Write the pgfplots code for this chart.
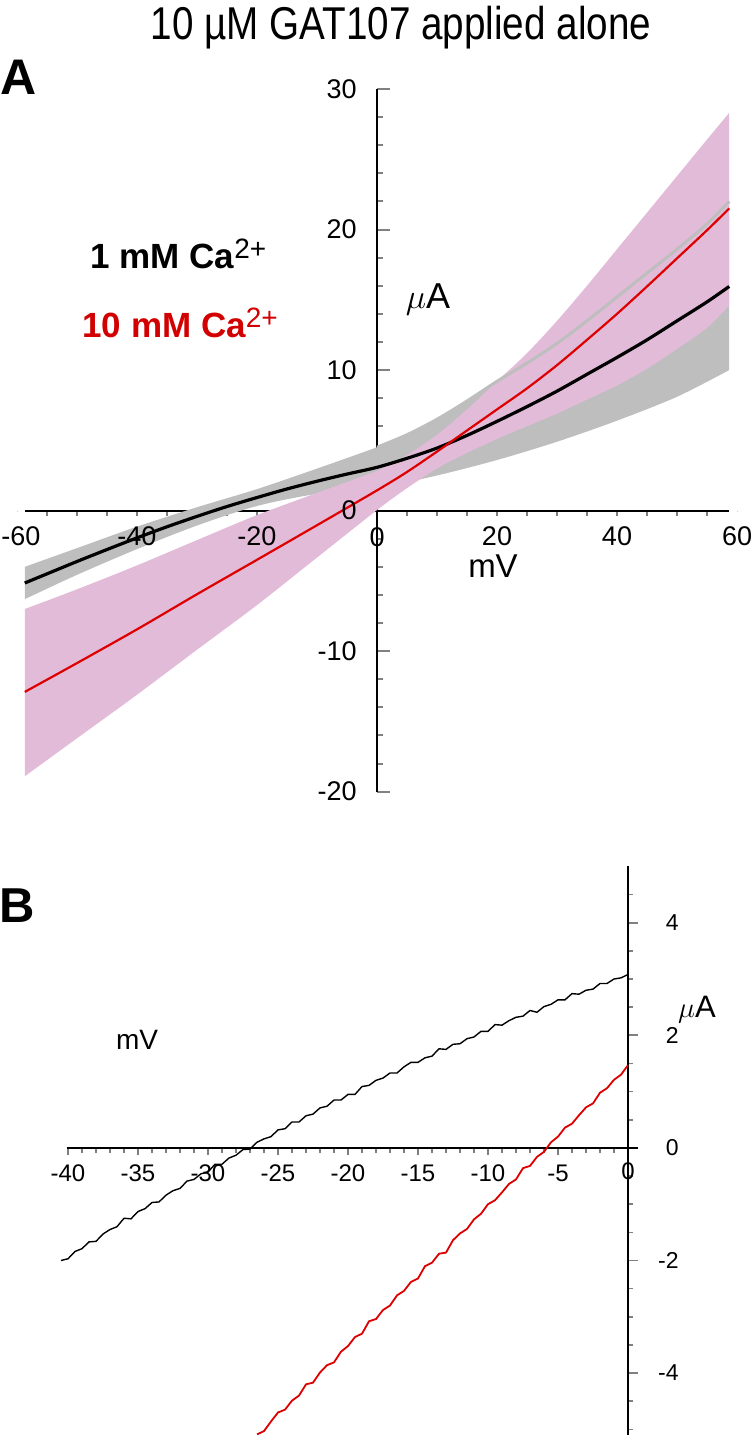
\documentclass[border=0pt]{standalone}
\usepackage{pgfplots}
\pgfplotsset{compat=1.18}
\usepgfplotslibrary{fillbetween}
\usepackage{fontspec}
\setmainfont{Liberation Sans}
\usepackage{graphicx}
\definecolor{pinkband}{RGB}{226,187,216}
\definecolor{grayband}{RGB}{190,190,190}
\definecolor{myred}{RGB}{222,0,0}
\definecolor{txtred}{RGB}{210,0,0}

\begin{document}
\begin{tikzpicture}

% ---------------- Panel A ----------------
\begin{axis}[
  at={(8.5pt,321.65pt)}, anchor=south west,
  scale only axis, width=360pt, height=351.35pt,
  xmin=-60, xmax=60, ymin=-20, ymax=30,
  axis lines=middle,
  axis line style={-, line width=1pt},
  x axis line style={shorten <=3.9pt, shorten >=3.9pt},
  xtick={-60,-40,...,60}, xticklabels={\hspace*{4pt}-60,-40,-20,0,20,40,60},
  minor xtick={-55,-50,...,55},
  ytick={-20,-10,...,30}, yticklabels={-20,-10,0,10,20,30},
  minor ytick={-18,-16,...,28},
  xtick align=outside, ytick align=inside,
  every major x tick/.append style={/pgfplots/major tick length=0.01pt},
  every minor x tick/.append style={/pgfplots/minor tick length=2.5pt, line width=0.9pt},
  every major y tick/.append style={/pgfplots/major tick length=6.3pt, line width=1pt},
  every minor y tick/.append style={/pgfplots/minor tick length=3pt, line width=1pt},
  xticklabel style={font=\fontsize{13.5}{14}\selectfont, inner sep=0pt, anchor=north, yshift=-3.5pt},
  yticklabel style={font=\fontsize{13.5}{14}\selectfont, inner sep=0pt, anchor=east, xshift=-10pt},
  clip=false,
]
\addplot[name path=gt, draw=none, smooth] coordinates {(-58.7,-4.0) (-50,-2.67) (-40,-1.14) (-30,0.24) (-20,1.53) (-10,2.99) (0,4.51) (5,5.4) (10,6.5) (15,7.8) (20,9.2) (25,10.5) (30,11.9) (35,13.5) (40,15.2) (45,16.9) (50,18.6) (55,20.4) (58.7,22.0)};
\addplot[name path=gb, draw=none, smooth] coordinates {(-58.7,-6.3) (-50,-4.57) (-40,-2.74) (-30,-1.06) (-20,0.33) (-10,1.19) (0,1.61) (10,2.5) (20,3.6) (30,4.9) (40,6.4) (50,8.1) (58.7,10.0)};
\addplot[grayband] fill between[of=gt and gb];
\addplot[name path=pt, draw=none, smooth] coordinates {(-58.7,-7.0) (-50,-5.6) (-40,-3.9) (-30,-2.1) (-20,-0.32) (-10,1.26) (0,2.84) (5,3.95) (10,5.4) (15,7.2) (20,9.2) (25,11.2) (30,13.5) (35,16.0) (40,18.6) (45,21.2) (50,23.8) (55,26.4) (58.7,28.3)};
\addplot[name path=pb, draw=none, smooth] coordinates {(-58.7,-18.9) (-50,-16.2) (-40,-13.1) (-30,-9.9) (-20,-6.72) (-10,-3.34) (0,0.04) (5,1.6) (10,3.0) (15,4.1) (20,5.1) (25,6.0) (30,6.9) (35,7.9) (40,8.9) (45,10.1) (50,11.5) (55,13.0) (58.7,14.6)};
\addplot[pinkband] fill between[of=pt and pb];
\addplot[grayband, line width=1.5pt, smooth] coordinates {(0,4.51) (5,5.4) (10,6.5) (15,7.8) (20,9.2) (25,10.5) (30,11.9) (35,13.5) (40,15.2) (45,16.9) (50,18.6) (55,20.4) (58.7,22.0)};
\addplot[black, line width=1.6pt, smooth] coordinates {(-58.7,-5.15) (-55,-4.5) (-50,-3.62) (-45,-2.77) (-40,-1.94) (-35,-1.15) (-30,-0.41) (-25,0.29) (-20,0.93) (-15,1.54) (-10,2.09) (-5,2.6) (0,3.08) (5,3.72) (10,4.45) (15,5.35) (20,6.35) (25,7.4) (30,8.5) (35,9.7) (40,10.9) (45,12.15) (50,13.5) (55,14.85) (58.7,15.95)};
\addplot[myred, line width=1.1pt, smooth] coordinates {(-58.7,-12.9) (-50,-10.85) (-40,-8.45) (-30,-5.95) (-20,-3.5) (-10,-1.04) (0,1.44) (5,2.75) (10,4.2) (15,5.7) (20,7.2) (25,8.7) (30,10.35) (35,12.15) (40,14.0) (45,15.95) (50,17.95) (55,19.95) (58.7,21.5)};
\node[anchor=north, inner sep=0pt, font=\fontsize{13.5}{14}\selectfont, yshift=-8.5pt] at (axis cs:0,0) {0};
\node[anchor=east, inner sep=0pt, font=\fontsize{13.5}{14}\selectfont, xshift=-10pt] at (axis cs:0,0) {0};
\end{axis}

% ---------------- Panel B ----------------
\begin{axis}[
  at={(30.5pt,0pt)}, anchor=south west,
  scale only axis, width=288.4pt, height=284.3pt,
  xmin=-40.5, xmax=0.7, ymin=-5.1, ymax=5.0,
  axis lines=middle,
  axis line style={-, line width=0.8pt},
  x axis line style={shorten <=2.8pt},
  xtick={-40,-35,...,0}, xticklabels={-40,-35,-30,-25,-20,-15,-10,-5,0},
  minor xtick={-39,-38,...,-1},
  ytick={-4,-2,0,2,4}, yticklabels={-4,-2,0,2,4},
  minor ytick={-5,-4.5,...,4.5},
  xtick align=outside, ytick align=inside,
  every major x tick/.append style={/pgfplots/major tick length=3.5pt, line width=0.7pt},
  every minor x tick/.append style={/pgfplots/minor tick length=2.5pt, line width=0.7pt},
  every major y tick/.append style={/pgfplots/major tick length=5pt, line width=0.8pt},
  every minor y tick/.append style={/pgfplots/minor tick length=2.5pt, line width=0.8pt},
  xticklabel style={font=\fontsize{12}{13}\selectfont, inner sep=0pt, anchor=north, yshift=-4pt},
  yticklabel style={font=\fontsize{11.5}{12}\selectfont, inner sep=0pt, anchor=east, xshift=25.5pt},
  clip=false,
]
\addplot[black, line width=0.7pt] coordinates {
(-40.5,-2.00) (-40,-1.97) (-39.5,-1.84) (-39,-1.79) (-38.5,-1.67) (-38,-1.66) (-37.5,-1.53) (-37,-1.45) (-36.5,-1.40) (-36,-1.25)
(-35.5,-1.26) (-35,-1.13) (-34.5,-1.08) (-34,-0.97) (-33.5,-0.96) (-33,-0.84) (-32.5,-0.76) (-32,-0.72) (-31.5,-0.59) (-31,-0.56)
(-30.5,-0.46) (-30,-0.43) (-29.5,-0.29) (-29,-0.29) (-28.5,-0.18) (-28,-0.13) (-27.5,-0.03) (-27,-0.02) (-26.5,0.10) (-26,0.16)
(-25.5,0.20) (-25,0.32) (-24.5,0.34) (-24,0.46) (-23.5,0.46) (-23,0.57) (-22.5,0.60) (-22,0.71) (-21.5,0.74) (-21,0.85)
(-20.5,0.85) (-20,0.95) (-19.5,0.95) (-19,1.09) (-18.5,1.11) (-18,1.20) (-17.5,1.24) (-17,1.33) (-16.5,1.33) (-16,1.44)
(-15.5,1.52) (-15,1.52) (-14.5,1.60) (-14,1.63) (-13.5,1.76) (-13,1.75) (-12.5,1.84) (-12,1.85) (-11.5,1.94) (-11,1.97)
(-10.5,2.07) (-10,2.07) (-9.5,2.19) (-9,2.18) (-8.5,2.26) (-8,2.32) (-7.5,2.34) (-7,2.44) (-6.5,2.41) (-6,2.51)
(-5.5,2.55) (-5,2.63) (-4.5,2.63) (-4,2.74) (-3.5,2.73) (-3,2.80) (-2.5,2.82) (-2,2.92) (-1.5,2.92) (-1,3.00)
(-0.5,3.02) (0,3.08)};
\addplot[myred, line width=0.9pt] coordinates {
(-26.5,-5.09) (-26,-5.03) (-25.5,-4.86) (-25,-4.70) (-24.5,-4.65) (-24,-4.49) (-23.5,-4.40) (-23,-4.20) (-22.5,-4.17) (-22,-3.99)
(-21.5,-3.86) (-21,-3.81) (-20.5,-3.62) (-20,-3.52) (-19.5,-3.36) (-19,-3.30) (-18.5,-3.08) (-18,-3.04) (-17.5,-2.88) (-17,-2.80)
(-16.5,-2.62) (-16,-2.54) (-15.5,-2.38) (-15,-2.32) (-14.5,-2.10) (-14,-2.04) (-13.5,-1.88) (-13,-1.86) (-12.5,-1.64) (-12,-1.52)
(-11.5,-1.44) (-11,-1.27) (-10.5,-1.17) (-10,-1.00) (-9.5,-0.93) (-9,-0.79) (-8.5,-0.64) (-8,-0.56) (-7.5,-0.36) (-7,-0.32)
(-6.5,-0.16) (-6,-0.07) (-5.5,0.10) (-5,0.20) (-4.5,0.36) (-4,0.43) (-3.5,0.58) (-3,0.72) (-2.5,0.79) (-2,0.98)
(-1.5,1.06) (-1,1.21) (-0.5,1.30) (0,1.47)};
\node[anchor=north, inner sep=0pt, font=\fontsize{12}{13}\selectfont, yshift=-7pt] at (axis cs:0,0) {0};
\node[anchor=east, inner sep=0pt, font=\fontsize{11.5}{12}\selectfont, xshift=25.5pt] at (axis cs:0,0) {0};
\end{axis}

% ---------------- Texts ----------------
\node at (200.5pt,703.5pt) {\scalebox{0.84}[1]{\fontsize{23}{23}\selectfont 10 µM GAT107 applied alone}};
\node at (9.5pt,679pt) {\fontsize{25}{25}\selectfont\bfseries A};
\node at (8.75pt,264.75pt) {\fontsize{24.5}{25}\selectfont\bfseries B};
\node[anchor=base west, inner sep=0pt] at (45pt,583pt) {\fontsize{17.5}{18}\selectfont\bfseries 1 mM Ca\raisebox{5pt}{\fontsize{14}{14}\selectfont\mdseries 2+}};
\node[anchor=base west, inner sep=0pt, text=txtred] at (41pt,548.5pt) {\fontsize{17.5}{18}\selectfont\bfseries 10 mM Ca\raisebox{5pt}{\fontsize{14}{14}\selectfont\mdseries 2+}};
\node at (214pt,568pt) {\fontsize{18}{18}\selectfont $\mu$A};
\node at (246.5pt,434.5pt) {\fontsize{16.5}{17}\selectfont mV};
\node at (68.5pt,197.5pt) {\fontsize{14}{14}\selectfont mV};
\node at (348.5pt,212.5pt) {\fontsize{15.5}{16}\selectfont $\mu$A};

\pgfresetboundingbox
\path[use as bounding box] (0pt,0pt) rectangle (376pt,717.5pt);
\end{tikzpicture}
\end{document}
